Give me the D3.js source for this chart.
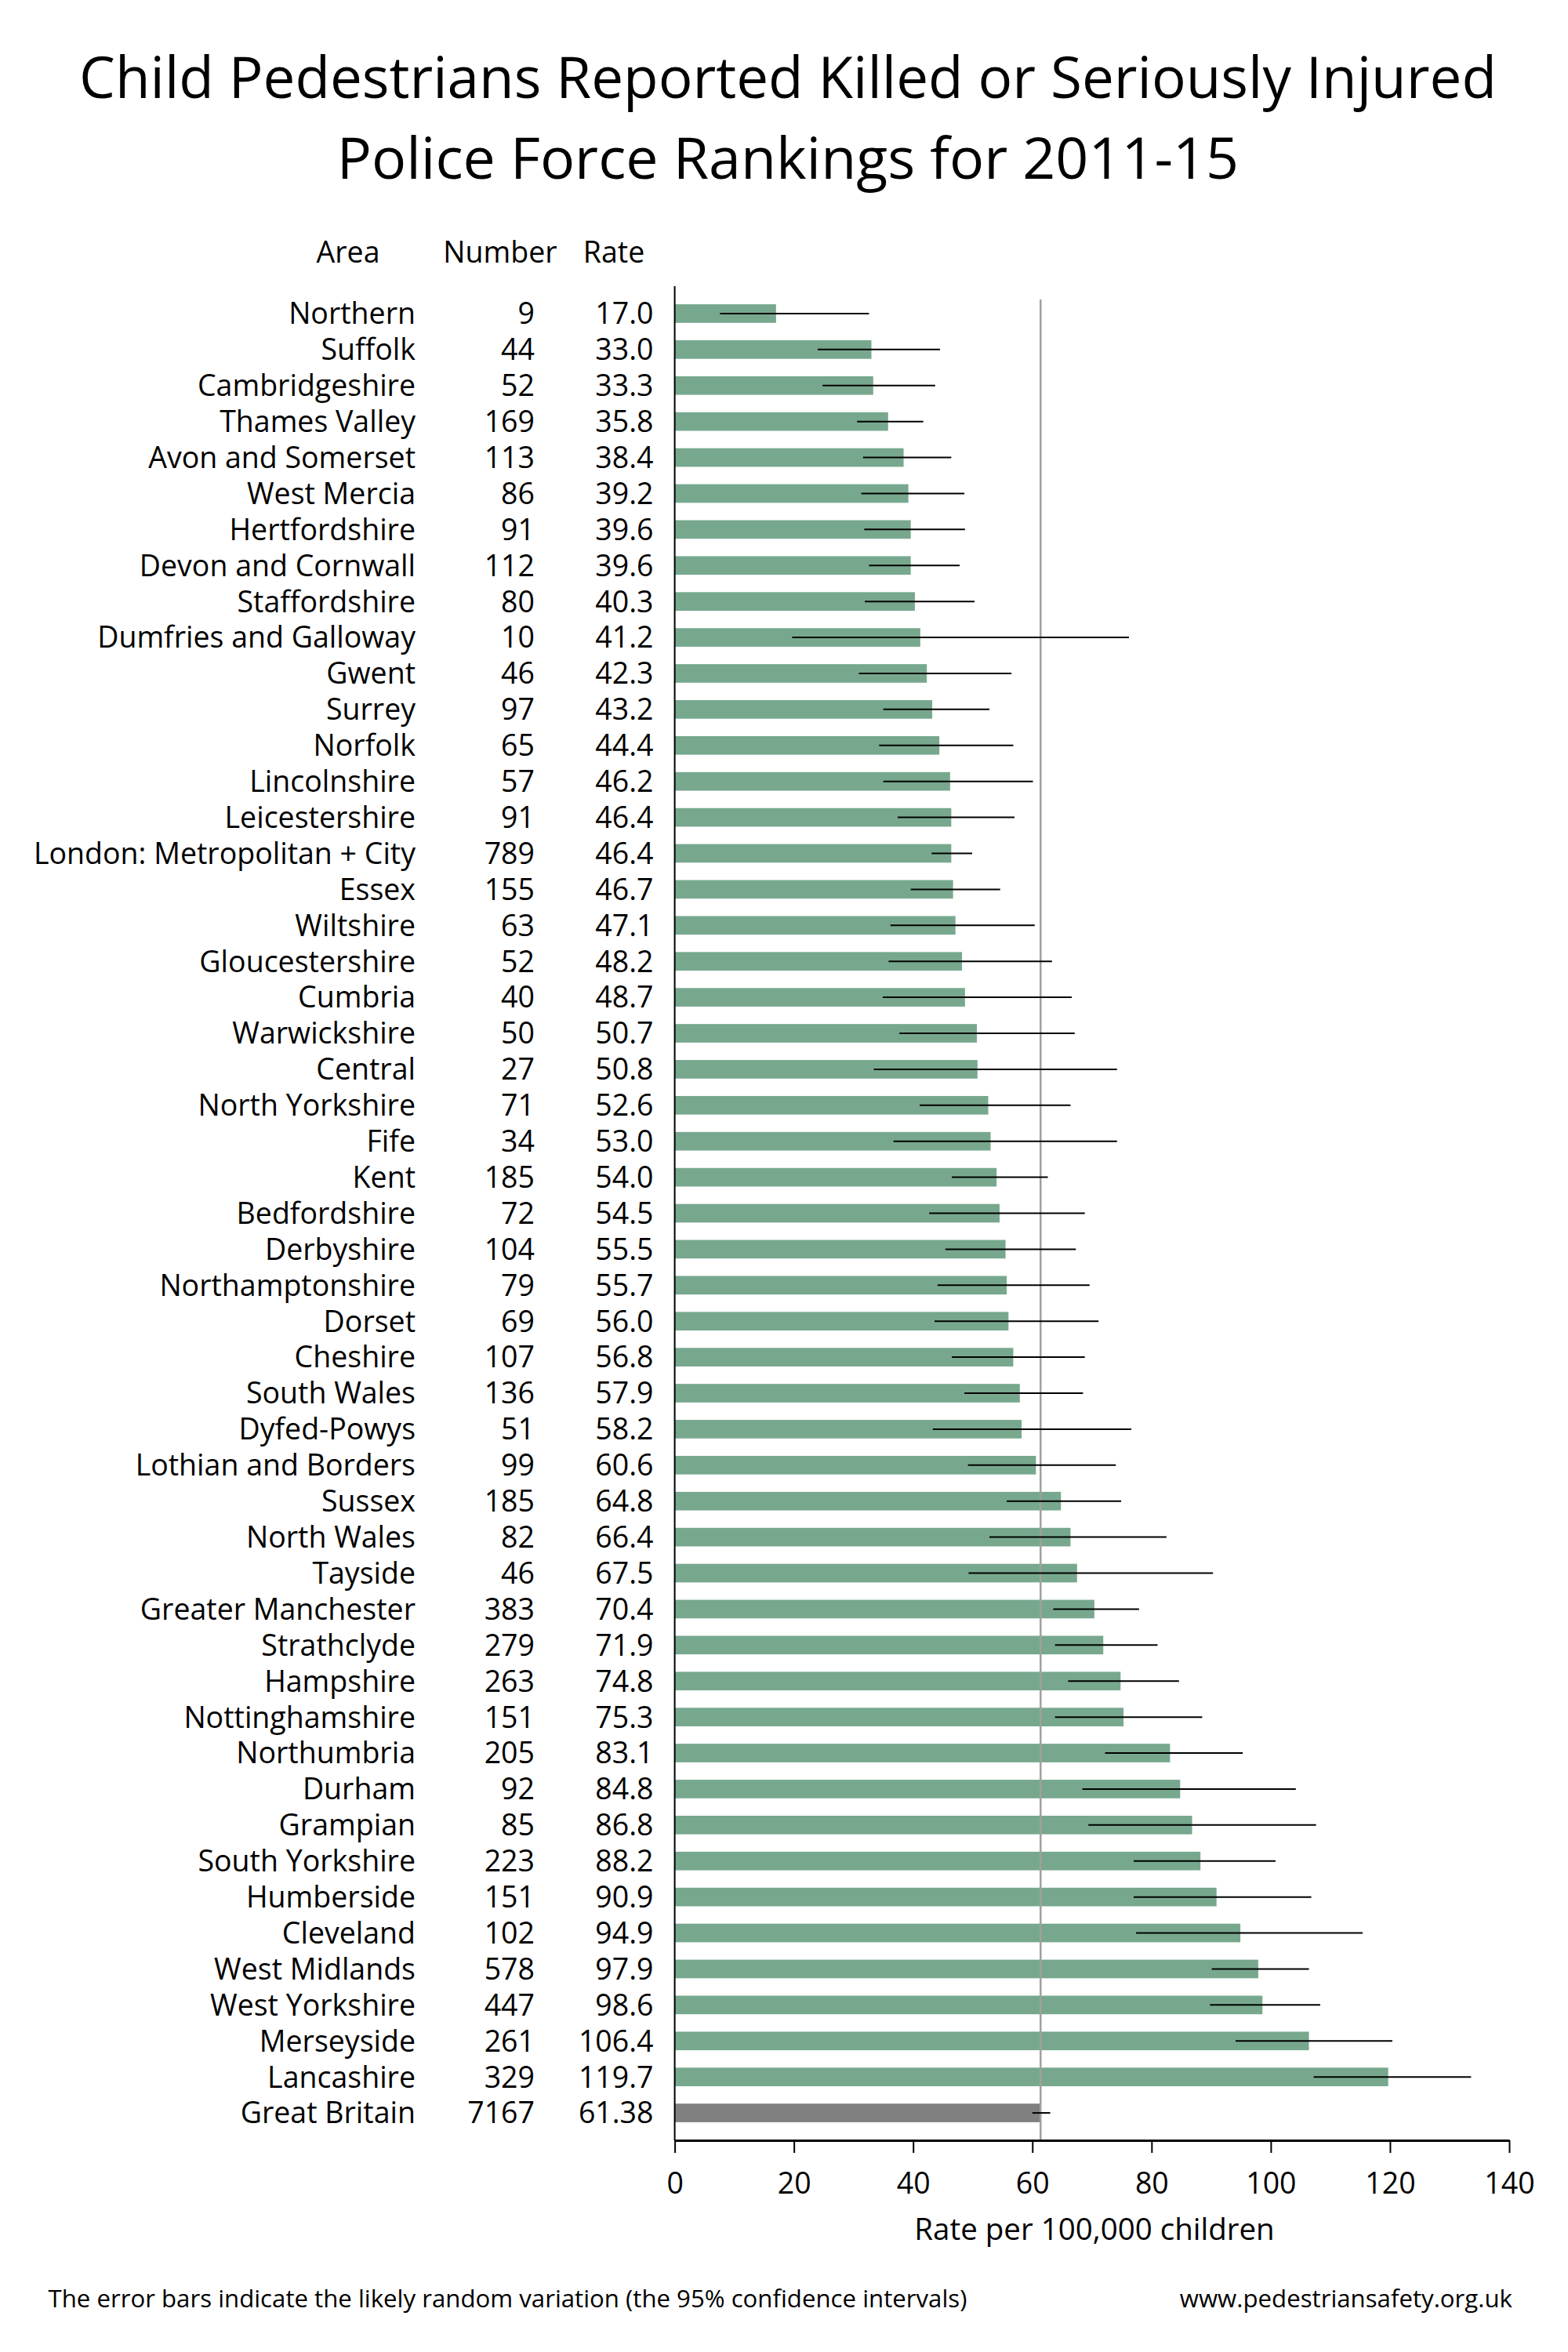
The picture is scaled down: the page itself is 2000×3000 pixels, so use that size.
<!DOCTYPE html>
<html>
<head>
<meta charset="utf-8">
<script src="https://cdn.jsdelivr.net/npm/d3@7"></script>
<style>
  html, body { margin: 0; padding: 0; background: #fff; }
  text { font-family: 'Open Sans', 'Noto Sans', sans-serif; fill: #000; }
</style>
</head>
<body>
<svg id="chart" width="2000" height="3000"></svg>
<script>
const areas = ["Northern","Suffolk","Cambridgeshire","Thames Valley","Avon and Somerset","West Mercia","Hertfordshire","Devon and Cornwall","Staffordshire","Dumfries and Galloway","Gwent","Surrey","Norfolk","Lincolnshire","Leicestershire","London: Metropolitan + City","Essex","Wiltshire","Gloucestershire","Cumbria","Warwickshire","Central","North Yorkshire","Fife","Kent","Bedfordshire","Derbyshire","Northamptonshire","Dorset","Cheshire","South Wales","Dyfed-Powys","Lothian and Borders","Sussex","North Wales","Tayside","Greater Manchester","Strathclyde","Hampshire","Nottinghamshire","Northumbria","Durham","Grampian","South Yorkshire","Humberside","Cleveland","West Midlands","West Yorkshire","Merseyside","Lancashire","Great Britain"];
const numbers = [9,44,52,169,113,86,91,112,80,10,46,97,65,57,91,789,155,63,52,40,50,27,71,34,185,72,104,79,69,107,136,51,99,185,82,46,383,279,263,151,205,92,85,223,151,102,578,447,261,329,7167];
const rates = [17.0,33.0,33.3,35.8,38.4,39.2,39.6,39.6,40.3,41.2,42.3,43.2,44.4,46.2,46.4,46.4,46.7,47.1,48.2,48.7,50.7,50.8,52.6,53.0,54.0,54.5,55.5,55.7,56.0,56.8,57.9,58.2,60.6,64.8,66.4,67.5,70.4,71.9,74.8,75.3,83.1,84.8,86.8,88.2,90.9,94.9,97.9,98.6,106.4,119.7,61.38];
const rateLabels = ["17.0","33.0","33.3","35.8","38.4","39.2","39.6","39.6","40.3","41.2","42.3","43.2","44.4","46.2","46.4","46.4","46.7","47.1","48.2","48.7","50.7","50.8","52.6","53.0","54.0","54.5","55.5","55.7","56.0","56.8","57.9","58.2","60.6","64.8","66.4","67.5","70.4","71.9","74.8","75.3","83.1","84.8","86.8","88.2","90.9","94.9","97.9","98.6","106.4","119.7","61.38"];
const lows = [7.6,24.0,24.8,30.6,31.6,31.3,31.8,32.6,31.9,19.7,30.9,35.0,34.3,35.0,37.4,43.1,39.6,36.2,35.9,34.9,37.7,33.4,41.1,36.7,46.5,42.7,45.4,44.1,43.6,46.5,48.6,43.3,49.2,55.7,52.8,49.3,63.5,63.8,66.0,63.8,72.2,68.4,69.4,77.0,77.0,77.4,90.1,89.8,94.1,107.2,60.0];
const highs = [32.6,44.5,43.7,41.7,46.4,48.6,48.7,47.8,50.3,76.2,56.5,52.8,56.8,60.1,57.0,49.9,54.6,60.4,63.3,66.6,67.1,74.2,66.4,74.2,62.6,68.8,67.3,69.6,71.1,68.8,68.5,76.6,74.0,74.9,82.5,90.3,77.9,81.0,84.6,88.5,95.3,104.2,107.6,100.8,106.8,115.4,106.4,108.3,120.4,133.6,63.0];
const xTicks = [0,20,40,60,80,100,120,140];
const titleLines = ["Child Pedestrians Reported Killed or Seriously Injured","Police Force Rankings for 2011-15"];
const headers = ["Area","Number","Rate"];

const rows = areas.map((a,i)=>({area:a, number:numbers[i], rate:rates[i], label:rateLabels[i], low:lows[i], high:highs[i], gb: a==="Great Britain"}));
const gbRate = rates[areas.indexOf("Great Britain")];

const svg = d3.select("#chart");
svg.append("rect").attr("width",2000).attr("height",3000).attr("fill","#fff");

const x = d3.scaleLinear().domain([0,140]).range([860.6,1925]);
const y = d3.scaleBand().domain(areas).range([377,2718]).paddingInner(0.484).paddingOuter(0.242);
const axisY = 2730;
const fs = 37.5;

// Title
svg.selectAll("text.title").data(titleLines).enter().append("text")
  .attr("class","title").attr("x",1005).attr("y",(d,i)=>125+i*103)
  .attr("text-anchor","middle").attr("font-size",(d,i)=>i===0?72.8:73.5).text(d=>d);

// Headers
const headerX = [444,638,783];
svg.selectAll("text.hdr").data(headers).enter().append("text")
  .attr("class","hdr").attr("x",(d,i)=>headerX[i]).attr("y",335)
  .attr("text-anchor","middle").attr("font-size",fs).text(d=>d);

// Row labels
const capOff = fs*0.714/2;
const g = svg.append("g");
g.selectAll("text.area").data(rows).enter().append("text")
  .attr("x",530).attr("y",d=>y(d.area)+y.bandwidth()/2+capOff)
  .attr("text-anchor","end").attr("font-size",fs).text(d=>d.area);
g.selectAll("text.num").data(rows).enter().append("text")
  .attr("x",682).attr("y",d=>y(d.area)+y.bandwidth()/2+capOff)
  .attr("text-anchor","end").attr("font-size",fs).text(d=>d.number);
g.selectAll("text.rate").data(rows).enter().append("text")
  .attr("x",833.5).attr("y",d=>y(d.area)+y.bandwidth()/2+capOff)
  .attr("text-anchor","end").attr("font-size",fs).text(d=>d.label);

// Bars
svg.selectAll("rect.bar").data(rows).enter().append("rect")
  .attr("x",x(0)).attr("y",d=>y(d.area))
  .attr("width",d=>x(d.rate)-x(0)).attr("height",y.bandwidth())
  .attr("fill",d=>d.gb?"#808080":"#77a88e");

// Reference line
svg.append("line").attr("x1",x(gbRate)).attr("x2",x(gbRate))
  .attr("y1",382).attr("y2",axisY).attr("stroke","#a0a0a0").attr("stroke-width",2.5);

// Error bars
svg.selectAll("line.err").data(rows).enter().append("line")
  .attr("x1",d=>x(d.low)).attr("x2",d=>x(d.high))
  .attr("y1",d=>y(d.area)+y.bandwidth()/2).attr("y2",d=>y(d.area)+y.bandwidth()/2)
  .attr("stroke","#000").attr("stroke-width",2);

// Left axis line
svg.append("line").attr("x1",x(0)).attr("x2",x(0)).attr("y1",365).attr("y2",axisY)
  .attr("stroke","#000").attr("stroke-width",2);

// Bottom axis
const ax = svg.append("g").attr("transform",`translate(0,${axisY})`)
  .call(d3.axisBottom(x).tickValues(xTicks).tickSize(16).tickSizeOuter(0));
ax.select(".domain").attr("stroke","#000").attr("stroke-width",3);
ax.selectAll(".tick line").attr("stroke","#000").attr("stroke-width",2);
ax.selectAll(".tick text").attr("y",68).attr("dy",0).attr("font-size",fs)
  .attr("font-family","'Open Sans', sans-serif").attr("fill","#000");

svg.append("text").attr("x",1396).attr("y",2857).attr("text-anchor","middle")
  .attr("font-size",38.5).text("Rate per 100,000 children");

// Footer
svg.append("text").attr("x",61.5).attr("y",2943).attr("font-size",31.2)
  .text("The error bars indicate the likely random variation (the 95% confidence intervals)");
svg.append("text").attr("x",1929).attr("y",2943).attr("text-anchor","end").attr("font-size",31.2)
  .text("www.pedestriansafety.org.uk");
</script>
</body>
</html>
